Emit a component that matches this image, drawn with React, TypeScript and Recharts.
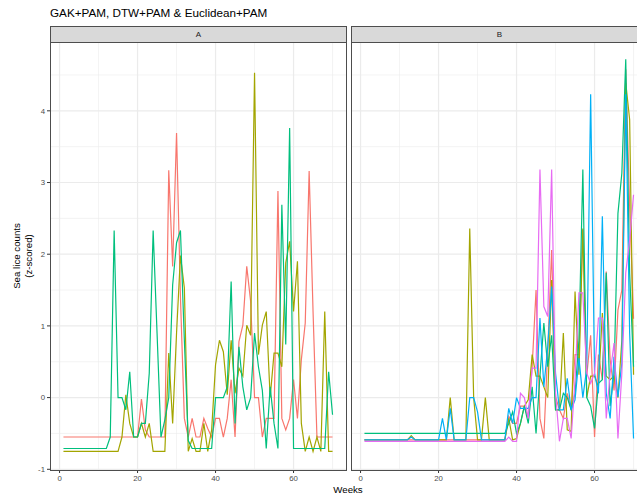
import { LineChart, Line, XAxis, YAxis, CartesianGrid } from 'recharts'

const weeks = Array.from({ length: 70 }, (_, i) => i + 1)

// panel A
const redA = [
  -0.55, -0.55, -0.55, -0.55, -0.55, -0.55, -0.55, -0.55, -0.55, -0.55,
  -0.55, -0.55, -0.55, -0.55, -0.55, -0.55, -0.55, -0.55, -0.55, -0.55,
  -0.02, -0.45, -0.55, -0.55, -0.55, -0.55, -0.55, 3.17, 1.83, 3.69,
  1.4, -0.29, -0.55, -0.29, -0.55, -0.55, -0.29, -0.43, -0.55, -0.29,
  -0.29, -0.55, -0.29, 0.25, -0.55, 0.78, 1.01, 1.83, 1.34, 0,
  0, -0.55, -0.29, -0.29, -0.29, 2.88, -0.29, -0.45, -0.29, 0.25,
  -0.29, 0.53, 1.04, 3.16, 1.2, -0.55, -0.55, -0.55, -0.55, -0.55,
]
const oliveA = [
  -0.75, -0.75, -0.75, -0.75, -0.75, -0.75, -0.75, -0.75, -0.75, -0.75,
  -0.75, -0.75, -0.75, -0.75, -0.75, -0.55, 0.04, -0.36, -0.55, -0.55,
  -0.36, -0.55, -0.36, -0.75, -0.75, -0.75, -0.75, 0.62, -0.36, 0.9,
  1.98, 1.53, -0.75, -0.57, -0.75, -0.75, -0.36, -0.75, -0.45, 0.46,
  0.8, 0.64, 0.04, 0.8, 0.06, 0.41, 0.3, 1.01, 0.87, 4.53,
  0.6, 1.01, 1.2, 0, 0.62, 0.62, 0.43, 1.88, 2.18, 1.2,
  1.9, -0.36, -0.75, -0.55, -0.75, -0.55, -0.75, 1.2, -0.75, -0.75,
]
const greenA = [
  -0.71, -0.71, -0.71, -0.71, -0.71, -0.71, -0.71, -0.71, -0.71, -0.71,
  -0.71, -0.71, -0.55, 2.33, 0, 0, -0.17, 0.36, -0.55, -0.55,
  -0.36, -0.36, 0.34, 2.33, 0.9, -0.55, -0.31, 0, 1.57, 2.16,
  2.33, 0.8, -0.6, -0.71, -0.71, -0.71, -0.71, -0.71, -0.71, 0,
  0, 0, 0.15, 1.62, -0.36, 0.71, 0.15, -0.17, 0, 0.9,
  0.43, 0.1, -0.71, 0.15, -0.36, -0.71, 2.69, 0.74, 3.76, -0.71,
  -0.71, -0.71, -0.71, -0.71, -0.71, -0.71, -0.71, -0.71, 0.36, -0.24,
]

// panel B
const redB = [
  -0.59, -0.59, -0.59, -0.59, -0.59, -0.59, -0.59, -0.59, -0.59, -0.59,
  -0.59, -0.59, -0.59, -0.59, -0.59, -0.59, -0.59, -0.59, -0.59, -0.59,
  -0.59, -0.59, -0.59, -0.59, -0.59, -0.59, -0.59, -0.59, -0.59, -0.59,
  -0.59, -0.59, -0.59, -0.59, -0.59, -0.59, -0.59, -0.26, -0.36, -0.36,
  -0.12, -0.12, -0.29, 0.43, 1.5, -0.29, -0.57, 0.66, 2.06, 0.01,
  -0.17, -0.29, 0.06, -0.17, 0.6, 0.6, 2.34, 0.3, 0.87, -0.55,
  0.6, 0.25, 1.76, 0.53, 0.1, 1.22, 1.5, 4.58, 2.67, 1.1,
]
const oliveB = [
  -0.59, -0.59, -0.59, -0.59, -0.59, -0.59, -0.59, -0.59, -0.59, -0.59,
  -0.59, -0.59, -0.53, -0.59, -0.59, -0.59, -0.59, -0.59, -0.59, -0.59,
  -0.59, -0.59, 0, -0.59, -0.59, -0.59, -0.59, 2.36, 0, -0.59,
  -0.59, 0, -0.59, -0.59, -0.59, -0.59, -0.59, -0.29, -0.59, -0.57,
  -0.36, -0.12, -0.03, 0.6, 0.3, 0.3, 0.15, 0, 1.64, -0.17,
  -0.17, 0.9, -0.45, -0.47, 1.48, 0.32, 2.36, 0, 0.3, 0.3,
  0.15, 1.18, 0.3, 0.25, 0.3, 0, 0.8, 4.39, 3.88, 0.32,
]
const greenB = [
  -0.5, -0.5, -0.5, -0.5, -0.5, -0.5, -0.5, -0.5, -0.5, -0.5,
  -0.5, -0.5, -0.5, -0.5, -0.5, -0.5, -0.5, -0.5, -0.5, -0.5,
  -0.5, -0.5, -0.5, -0.5, -0.5, -0.5, -0.5, -0.5, -0.5, -0.5,
  -0.5, -0.5, -0.5, -0.5, -0.5, -0.5, -0.5, -0.36, -0.2, -0.5,
  -0.36, -0.12, -0.36, 0.15, -0.5, 0.3, 1.04, 0.43, 0.87, -0.17,
  -0.17, 0.06, 0, -0.17, 0.06, 0.8, 3.18, 0, -0.12, -0.43,
  0.2, 0.25, 1.74, -0.12, 0.34, 2.57, 3.13, 4.72, 1.74, 0.43,
]
const blueB = [
  -0.59, -0.59, -0.59, -0.59, -0.59, -0.59, -0.59, -0.59, -0.59, -0.59,
  -0.59, -0.59, -0.55, -0.59, -0.59, -0.59, -0.59, -0.59, -0.59, -0.59,
  -0.29, -0.59, -0.15, -0.59, -0.59, -0.59, -0.59, 0, 0, -0.2,
  -0.59, -0.59, -0.59, -0.59, -0.59, -0.59, -0.59, -0.15, -0.36, 0,
  -0.15, -0.15, -0.15, 0, 0, 1.11, 0.15, 0.71, 1.55, 0.34,
  -0.17, -0.17, 0.27, -0.17, -0.03, 0.55, 0, 0.41, 4.23, 0.34,
  0.06, 2.53, 0.06, -0.29, 0.57, 0.01, 0.48, 4.23, 0.9, -0.57,
]
const magentaB = [
  -0.61, -0.61, -0.61, -0.61, -0.61, -0.61, -0.61, -0.61, -0.61, -0.61,
  -0.61, -0.61, -0.61, -0.61, -0.61, -0.61, -0.61, -0.61, -0.61, -0.61,
  -0.61, -0.61, -0.61, -0.61, -0.61, -0.61, -0.61, -0.61, -0.61, -0.61,
  -0.61, -0.61, -0.61, -0.61, -0.61, -0.61, -0.61, -0.55, -0.61, -0.61,
  0.06, 0, -0.29, 0.41, 0.41, 3.18, 1.27, 1.13, 3.18, 0.06,
  -0.61, -0.29, -0.29, -0.57, 0.25, 1.46, 1.46, 0.34, 0.2, 0.34,
  1.11, 1.11, -0.29, 0.34, 0.76, -0.57, 0.34, 1.74, 2.2, 2.83,
]

const xTicks = [0, 20, 40, 60]
const xMinor = [10, 30, 50, 70]
const yTicks = [-1, 0, 1, 2, 3, 4]
const yMinor = [-0.5, 0.5, 1.5, 2.5, 3.5, 4.5]

const COLORS = { red: '#F8766D', olive: '#A3A500', green: '#00BF7D', blue: '#00B0F6', magenta: '#E76BF3' }

const dataA = weeks.map((w, i) => ({ week: w, red: redA[i], olive: oliveA[i], green: greenA[i] }))
const dataB = weeks.map((w, i) => ({
  week: w, red: redB[i], olive: oliveB[i], green: greenB[i], blue: blueB[i], magenta: magentaB[i],
}))

const X_DOMAIN = [-2.45, 73.45]
const Y_DOMAIN = [-1.01, 4.96]
const FONT = '"Liberation Sans", Arial, sans-serif'
const tickStyle = { fontSize: 7.8, fill: '#4D4D4D', fontFamily: FONT }

function Panel({ data, keys, left, width, showY, label }:
  { data: any[]; keys: string[]; left: number; width: number; showY: boolean; label: string }) {
  const yW = showY ? 50 : 0
  return (
    <>
      <div style={{ position: 'absolute', left, top: 0 }}>
        <LineChart width={width + yW + 1} height={495} data={data}
          margin={{ top: 42, right: 1, bottom: 0, left: 0 }}>
          <CartesianGrid stroke="#EBEBEB" strokeWidth={0.6} horizontalValues={yMinor} verticalValues={xMinor} />
          <CartesianGrid stroke="#EBEBEB" strokeWidth={1.2} horizontalValues={yTicks} verticalValues={xTicks} />
          <XAxis dataKey="week" type="number" domain={X_DOMAIN} ticks={xTicks} allowDataOverflow
            height={25} tickSize={3} tickMargin={2} axisLine={false}
            tickLine={{ stroke: '#333333' }} tick={tickStyle} />
          <YAxis type="number" domain={Y_DOMAIN} ticks={yTicks} allowDataOverflow hide={!showY}
            width={yW} tickSize={3} tickMargin={2} axisLine={false}
            tickLine={{ stroke: '#333333' }} tick={tickStyle} />
          {keys.map((k) => (
            <Line key={k} dataKey={k} stroke={(COLORS as any)[k]} strokeWidth={1.2}
              dot={false} activeDot={false} isAnimationActive={false} />
          ))}
        </LineChart>
      </div>
      <div style={{
        position: 'absolute', left: left + yW, top: 42, width: width - 1, height: 427,
        border: '1px solid #4D4D4D', pointerEvents: 'none',
      }} />
      <div style={{
        position: 'absolute', left: left + yW, top: 26, width: width - 1, height: 15,
        border: '1px solid #4D4D4D', borderBottom: 'none', background: '#D9D9D9',
        fontSize: 8, color: '#1A1A1A', textAlign: 'center', lineHeight: '15px', fontFamily: FONT,
      }}>{label}</div>
    </>
  )
}

export default function App() {
  return (
    <div style={{
      position: 'fixed', left: 0, top: 0, width: 637, height: 495, overflow: 'hidden',
      background: '#fff', fontFamily: FONT,
    }}>
      <div style={{ position: 'absolute', left: 50, top: 6, fontSize: 11.7, color: '#000' }}>
        GAK+PAM, DTW+PAM &amp; Euclidean+PAM
      </div>
      <Panel data={dataA} keys={['red', 'olive', 'green']} left={0} width={296} showY label="A" />
      <Panel data={dataB} keys={['red', 'olive', 'green', 'blue', 'magenta']} left={351} width={296}
        showY={false} label="B" />
      <div style={{
        position: 'absolute', left: 23, top: 256, transform: 'translate(-50%, -50%) rotate(-90deg)',
        fontSize: 9.7, lineHeight: '12px', textAlign: 'center', whiteSpace: 'nowrap', color: '#000',
      }}>
        Sea lice counts<br />(z-scored)
      </div>
      <div style={{
        position: 'absolute', left: 348, top: 484, transform: 'translateX(-50%)',
        fontSize: 9.7, color: '#000',
      }}>
        Weeks
      </div>
    </div>
  )
}
